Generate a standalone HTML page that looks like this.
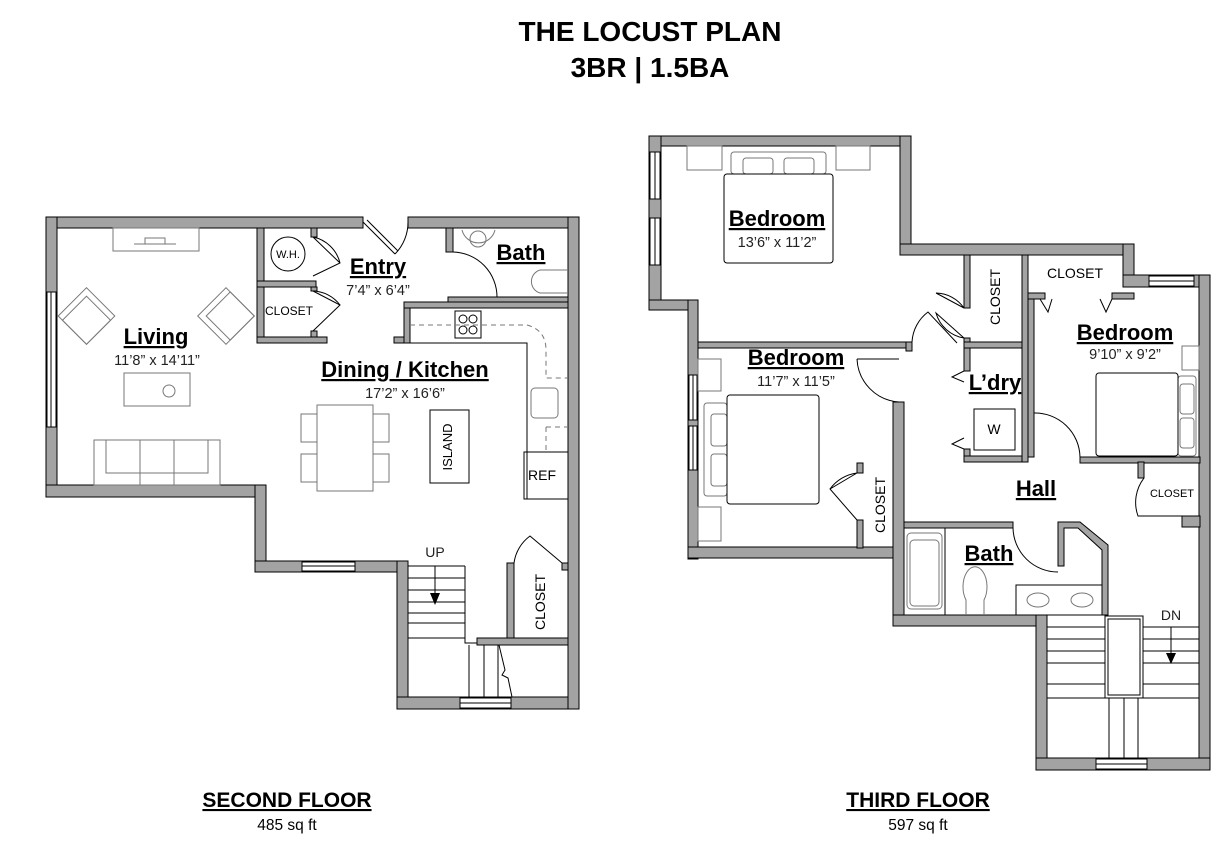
<!DOCTYPE html>
<html><head><meta charset="utf-8"><style>
body{margin:0;background:#fff}
svg{display:block}
text{font-family:"Liberation Sans",Arial,sans-serif}
.w{fill:#a3a3a3;stroke:#000;stroke-width:1}
.f{fill:#fff;stroke:#000;stroke-width:1}
.l{fill:none;stroke:#000;stroke-width:1}
.g{fill:none;stroke:#777;stroke-width:1}
.t{font-weight:bold;font-size:22px;text-decoration:underline}
.d{font-size:14.5px;fill:#222}
</style></head><body>
<svg width="1224" height="847" viewBox="0 0 1224 847" xmlns="http://www.w3.org/2000/svg">
<text x="650" y="41" text-anchor="middle" font-size="28" font-weight="bold">THE LOCUST PLAN</text>
<text x="650" y="77" text-anchor="middle" font-size="28" font-weight="bold">3BR | 1.5BA</text>

<!-- ============ SECOND FLOOR ============ -->
<g>
<rect class="w" x="46" y="217" width="317" height="11"/>
<rect class="w" x="408" y="217" width="171" height="11"/>
<rect class="w" x="46" y="217" width="11" height="280"/>
<rect class="w" x="46" y="485" width="220" height="12"/>
<rect class="w" x="255" y="485" width="11" height="87"/>
<rect class="w" x="255" y="561" width="152" height="11"/>
<rect class="w" x="397" y="561" width="11" height="148"/>
<rect class="w" x="397" y="697" width="182" height="12"/>
<rect class="w" x="568" y="217" width="11" height="492"/>
<rect class="f" x="47" y="292" width="9" height="135"/><line class="l" x1="51" y1="292" x2="51" y2="427"/>
<rect class="f" x="302" y="562" width="53" height="9"/><line class="l" x1="302" y1="566" x2="355" y2="566"/>
<rect class="f" x="460" y="698" width="51" height="10"/><line class="l" x1="460" y1="703" x2="511" y2="703"/>
<line class="l" x1="363" y1="222" x2="395" y2="254"/><line class="l" x1="367" y1="220" x2="398" y2="251"/>
<path class="l" d="M395 254 A45 45 0 0 0 408 222"/>
<rect class="w" x="257" y="228" width="7" height="115"/>
<rect class="w" x="257" y="337" width="70" height="6"/>
<rect class="w" x="257" y="281" width="59" height="6"/>
<rect class="w" x="311" y="228" width="6" height="9"/>
<rect class="w" x="311" y="287" width="6" height="4"/>
<rect class="w" x="311" y="331" width="6" height="6"/>
<path class="l" d="M313 237 L340 263 M313 237 A35 35 0 0 1 340 263 L313 276"/>
<path class="l" d="M313 291 L340 305 L313 331"/>
<path class="l" d="M313 291 A35 35 0 0 1 340 305"/>
<circle class="f" cx="288" cy="254" r="17"/>
<text x="288" y="258" text-anchor="middle" font-size="11">W.H.</text>
<text x="289" y="315" text-anchor="middle" font-size="12">CLOSET</text>
<rect class="w" x="446" y="228" width="7" height="24"/>
<rect class="w" x="448" y="297" width="120" height="5"/>
<path class="l" d="M453 252 A45 45 0 0 1 497 297"/>
<path class="g" d="M462 230 A17 17 0 0 0 495 230"/><circle class="g" cx="478" cy="239" r="8"/>
<path class="g" d="M568 270 L540 270 A12 12 0 0 0 540 293 L568 293"/>
<rect class="w" x="394" y="337" width="16" height="6"/>
<rect class="w" x="404" y="302" width="6" height="41"/>
<rect class="w" x="404" y="302" width="164" height="6"/>
<path class="l" d="M410 343 L527 343 L527 452"/>
<rect class="f" x="524" y="452" width="44" height="47"/>
<line class="l" x1="527" y1="452" x2="527" y2="499"/>
<text x="542" y="480" text-anchor="middle" font-size="14">REF</text>
<rect class="f" x="455" y="311" width="26" height="27"/>
<circle class="l" cx="463" cy="319" r="4"/><circle class="l" cx="473" cy="319" r="4"/><circle class="l" cx="463" cy="330" r="4"/><circle class="l" cx="473" cy="330" r="4"/>
<path class="g" stroke-dasharray="5,4" d="M410 325 L527 325 Q546 330 546 350 L546 378 L568 378 M546 427 L568 427 M546 427 L546 452"/>
<rect class="g" x="531" y="388" width="27" height="30" rx="4"/>
<rect class="w" x="507" y="563" width="7" height="80"/>
<rect class="w" x="477" y="638" width="91" height="7"/>
<rect class="w" x="562" y="563" width="6" height="7"/>
<path class="l" d="M514 563 A40 40 0 0 1 530 536 L562 563"/>
<text transform="translate(545,602) rotate(-90)" text-anchor="middle" font-size="14">CLOSET</text>
<path class="l" d="M465 566 L465 643 L477 643 M408 566 L465 566 M408 578 L465 578 M408 590 L465 590 M408 602 L465 602 M408 613 L465 613 M408 623 L465 623 M408 638 L465 638"/>
<path class="l" d="M469 645 L469 697 M484 645 L484 697 M498 645 L498 697 M499 645 L505 670 L502 675 L508 678 L512 697"/>
<line class="l" x1="435" y1="566" x2="435" y2="595"/><path d="M430 593 L440 593 L435 605 Z"/>
<text x="435" y="557" text-anchor="middle" font-size="14" fill="#222">UP</text>
<rect class="g" x="113" y="228" width="86" height="23"/>
<path class="g" d="M134 244 L176 244 M145 244 L145 238 L165 238 L165 244"/>
<g transform="translate(86.5,316) rotate(45)"><rect class="g" x="-20" y="-20" width="40" height="40"/><rect class="g" x="-14" y="-14" width="34" height="34"/></g>
<g transform="translate(226,316) rotate(45)"><rect class="g" x="-20" y="-20" width="40" height="40"/><rect class="g" x="-14" y="-20" width="34" height="34"/></g>
<rect class="g" x="124" y="373" width="66" height="33"/><circle class="g" cx="169" cy="391" r="6"/>
<rect class="g" x="94" y="440" width="126" height="45"/>
<path class="g" d="M106 440 L106 473 L208 473 L208 440 M140 440 L140 485 M174 440 L174 485"/>
<rect class="g" x="317" y="405" width="56" height="86"/>
<rect class="g" x="301" y="414" width="16" height="28"/><rect class="g" x="301" y="454" width="16" height="28"/>
<rect class="g" x="373" y="414" width="16" height="28"/><rect class="g" x="373" y="454" width="16" height="28"/>
<rect class="f" x="430" y="410" width="39" height="73"/>
<text transform="translate(452,447) rotate(-90)" text-anchor="middle" font-size="13">ISLAND</text>
<text x="156" y="344" text-anchor="middle" class="t">Living</text>
<text x="157" y="365" text-anchor="middle" class="d">11’8” x 14’11”</text>
<text x="378" y="274" text-anchor="middle" class="t">Entry</text>
<text x="378" y="295" text-anchor="middle" class="d">7’4” x 6’4”</text>
<text x="521" y="260" text-anchor="middle" class="t">Bath</text>
<text x="405" y="377" text-anchor="middle" class="t">Dining / Kitchen</text>
<text x="405" y="398" text-anchor="middle" class="d">17’2” x 16’6”</text>
</g>

<!-- ============ THIRD FLOOR ============ -->
<g>
<rect class="w" x="649" y="136" width="262" height="10"/>
<rect class="w" x="649" y="136" width="12" height="174"/>
<rect class="w" x="649" y="300" width="49" height="10"/>
<rect class="w" x="900" y="136" width="11" height="119"/>
<rect class="w" x="900" y="244" width="234" height="11"/>
<rect class="w" x="1123" y="244" width="11" height="43"/>
<rect class="w" x="1123" y="275" width="87" height="12"/>
<rect class="w" x="1199" y="275" width="11" height="495"/>
<rect class="w" x="688" y="300" width="10" height="259"/>
<rect class="w" x="688" y="547" width="216" height="11"/>
<rect class="w" x="893" y="402" width="11" height="224"/>
<rect class="w" x="893" y="615" width="154" height="11"/>
<rect class="w" x="1036" y="615" width="11" height="155"/>
<rect class="w" x="1036" y="758" width="174" height="12"/>
<rect class="f" x="650" y="152" width="10" height="47"/><line class="l" x1="655" y1="152" x2="655" y2="199"/>
<rect class="f" x="650" y="218" width="10" height="47"/><line class="l" x1="655" y1="218" x2="655" y2="265"/>
<rect class="f" x="689" y="375" width="8" height="45"/><line class="l" x1="693" y1="375" x2="693" y2="420"/>
<rect class="f" x="689" y="426" width="8" height="44"/><line class="l" x1="693" y1="426" x2="693" y2="470"/>
<rect class="f" x="1149" y="276" width="45" height="10"/><line class="l" x1="1149" y1="281" x2="1194" y2="281"/>
<rect class="f" x="1096" y="759" width="51" height="10"/><line class="l" x1="1096" y1="764" x2="1147" y2="764"/>
<rect class="w" x="698" y="342" width="214" height="6"/>
<rect class="w" x="906" y="342" width="6" height="9"/>
<rect class="w" x="964" y="255" width="6" height="53"/>
<rect class="w" x="964" y="338" width="6" height="33"/>
<rect class="w" x="964" y="342" width="59" height="6"/>
<rect class="w" x="964" y="449" width="6" height="13"/>
<rect class="w" x="964" y="456" width="64" height="6"/>
<rect class="w" x="1022" y="255" width="6" height="207"/>
<rect class="w" x="1028" y="293" width="17" height="6"/>
<rect class="w" x="1112" y="293" width="22" height="6"/>
<rect class="w" x="1028" y="299" width="6" height="158"/>
<rect class="w" x="1080" y="457" width="120" height="6"/>
<rect class="w" x="1138" y="462" width="6" height="16"/>
<rect class="w" x="1182" y="516" width="18" height="11"/>
<rect class="w" x="857" y="463" width="6" height="10"/>
<rect class="w" x="857" y="520" width="6" height="28"/>
<rect class="w" x="904" y="522" width="109" height="6"/>
<path class="w" d="M1058 522 L1080 522 L1108 545 L1108 615 L1102 615 L1102 550 L1078 528 L1064 528 L1064 566 L1058 566 Z"/>
<path class="l" d="M964 308 L936 293 M964 308 A35 35 0 0 0 936 293"/>
<path class="l" d="M964 338 L936 313 A35 35 0 0 0 964 338"/>
<path class="l" d="M957 343 L928 312 A40 40 0 0 0 912 342"/>
<path class="l" d="M857 359 A45 45 0 0 0 899 402 M857 359 L899 359"/>
<path class="l" d="M857 473 L830 489 L857 520 M857 473 A40 40 0 0 0 830 489"/>
<path class="l" d="M964 371 L952 377 L964 382 M964 438 L952 444 L964 449"/>
<path class="l" d="M1040 299 L1048 312 L1052 299 M1100 299 L1106 312 L1112 299"/>
<path class="l" d="M1034 413 A45 45 0 0 1 1080 457"/>
<path class="l" d="M1144 478 A40 40 0 0 0 1138 516 L1182 516"/>
<path class="l" d="M1013 528 A45 45 0 0 0 1058 572"/>
<line class="l" x1="945" y1="528" x2="945" y2="615"/>
<rect class="g" x="907" y="533" width="35" height="76" rx="4"/><rect class="g" x="910" y="540" width="29" height="66" rx="4"/>
<path class="g" d="M966 615 L966 600 A12 20 0 1 1 984 600 L984 615"/>
<rect class="f" x="1016" y="585" width="86" height="30"/>
<ellipse class="g" cx="1038" cy="600" rx="11" ry="7"/><ellipse class="g" cx="1082" cy="600" rx="11" ry="7"/>
<rect class="f" x="974" y="409" width="41" height="41"/>
<text x="994" y="434" text-anchor="middle" font-size="14">W</text>
<rect class="f" x="1105" y="616" width="38" height="82"/><rect class="l" x="1108" y="619" width="32" height="76"/>
<path class="l" d="M1047 627 L1105 627 M1047 639 L1105 639 M1047 651 L1105 651 M1047 663 L1105 663 M1047 684 L1105 684 M1047 698 L1199 698 M1143 627 L1199 627 M1143 639 L1199 639 M1143 651 L1199 651 M1143 663 L1199 663 M1143 684 L1199 684 M1109 698 L1109 758 M1124 698 L1124 758 M1138 698 L1138 758"/>
<line class="l" x1="1171" y1="627" x2="1171" y2="655"/><path d="M1166 653 L1176 653 L1171 664 Z"/>
<text x="1171" y="620" text-anchor="middle" font-size="14" fill="#222">DN</text>
<rect class="g" x="687" y="146" width="35" height="24"/><rect class="g" x="836" y="146" width="34" height="24"/>
<rect class="g" x="731" y="152" width="95" height="22" rx="3"/>
<rect class="g" x="743" y="158" width="30" height="16" rx="3"/><rect class="g" x="784" y="158" width="30" height="16" rx="3"/>
<rect class="f" x="724" y="174" width="109" height="89" rx="3"/>
<rect class="g" x="698" y="359" width="23" height="32"/><rect class="g" x="698" y="507" width="23" height="34"/>
<rect class="g" x="704" y="403" width="23" height="93" rx="3"/>
<rect class="g" x="711" y="414" width="16" height="32" rx="3"/><rect class="g" x="711" y="454" width="16" height="32" rx="3"/>
<rect class="f" x="727" y="395" width="92" height="109" rx="3"/>
<rect class="g" x="1182" y="346" width="17" height="24"/>
<rect class="g" x="1178" y="376" width="18" height="80" rx="3"/>
<rect class="g" x="1180" y="384" width="14" height="30" rx="3"/><rect class="g" x="1180" y="418" width="14" height="30" rx="3"/>
<rect class="f" x="1096" y="373" width="82" height="83" rx="3"/>
<text x="777" y="226" text-anchor="middle" class="t">Bedroom</text>
<text x="777" y="247" text-anchor="middle" class="d">13’6” x 11’2”</text>
<text x="796" y="365" text-anchor="middle" class="t">Bedroom</text>
<text x="796" y="386" text-anchor="middle" class="d">11’7” x 11’5”</text>
<text x="1125" y="340" text-anchor="middle" class="t">Bedroom</text>
<text x="1125" y="359" text-anchor="middle" class="d">9’10” x 9’2”</text>
<text x="995" y="390" text-anchor="middle" class="t">L’dry</text>
<text x="1036" y="496" text-anchor="middle" class="t">Hall</text>
<text x="989" y="561" text-anchor="middle" class="t">Bath</text>
<text transform="translate(1000,297) rotate(-90)" text-anchor="middle" font-size="14">CLOSET</text>
<text x="1075" y="278" text-anchor="middle" font-size="14">CLOSET</text>
<text x="1172" y="497" text-anchor="middle" font-size="11">CLOSET</text>
<text transform="translate(885,505) rotate(-90)" text-anchor="middle" font-size="14">CLOSET</text>
</g>

<text x="287" y="807" text-anchor="middle" font-size="21" font-weight="bold" text-decoration="underline">SECOND FLOOR</text>
<text x="287" y="830" text-anchor="middle" font-size="15.5">485 sq ft</text>
<text x="918" y="807" text-anchor="middle" font-size="21" font-weight="bold" text-decoration="underline">THIRD FLOOR</text>
<text x="918" y="830" text-anchor="middle" font-size="15.5">597 sq ft</text>
</svg>
</body></html>
